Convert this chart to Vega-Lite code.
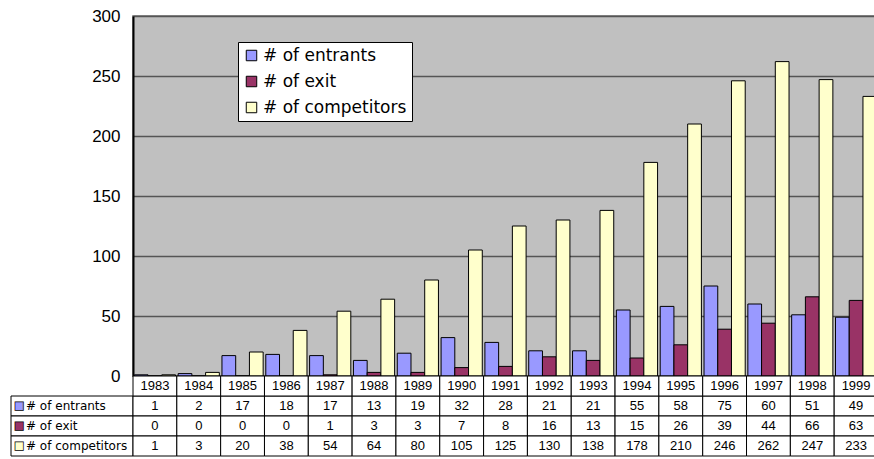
{
  "$schema": "https://vega.github.io/schema/vega-lite/v6.json",
  "padding": {"left": 10, "top": 6, "right": 0, "bottom": 0},
  "background": "white",
  "config": {"font": "Liberation Sans", "view": {"stroke": null}},
  "datasets": {
    "d": [
      {"year": "1983", "series": "# of entrants", "value": 1},
      {"year": "1984", "series": "# of entrants", "value": 2},
      {"year": "1985", "series": "# of entrants", "value": 17},
      {"year": "1986", "series": "# of entrants", "value": 18},
      {"year": "1987", "series": "# of entrants", "value": 17},
      {"year": "1988", "series": "# of entrants", "value": 13},
      {"year": "1989", "series": "# of entrants", "value": 19},
      {"year": "1990", "series": "# of entrants", "value": 32},
      {"year": "1991", "series": "# of entrants", "value": 28},
      {"year": "1992", "series": "# of entrants", "value": 21},
      {"year": "1993", "series": "# of entrants", "value": 21},
      {"year": "1994", "series": "# of entrants", "value": 55},
      {"year": "1995", "series": "# of entrants", "value": 58},
      {"year": "1996", "series": "# of entrants", "value": 75},
      {"year": "1997", "series": "# of entrants", "value": 60},
      {"year": "1998", "series": "# of entrants", "value": 51},
      {"year": "1999", "series": "# of entrants", "value": 49},
      {"year": "1983", "series": "# of exit", "value": 0},
      {"year": "1984", "series": "# of exit", "value": 0},
      {"year": "1985", "series": "# of exit", "value": 0},
      {"year": "1986", "series": "# of exit", "value": 0},
      {"year": "1987", "series": "# of exit", "value": 1},
      {"year": "1988", "series": "# of exit", "value": 3},
      {"year": "1989", "series": "# of exit", "value": 3},
      {"year": "1990", "series": "# of exit", "value": 7},
      {"year": "1991", "series": "# of exit", "value": 8},
      {"year": "1992", "series": "# of exit", "value": 16},
      {"year": "1993", "series": "# of exit", "value": 13},
      {"year": "1994", "series": "# of exit", "value": 15},
      {"year": "1995", "series": "# of exit", "value": 26},
      {"year": "1996", "series": "# of exit", "value": 39},
      {"year": "1997", "series": "# of exit", "value": 44},
      {"year": "1998", "series": "# of exit", "value": 66},
      {"year": "1999", "series": "# of exit", "value": 63},
      {"year": "1983", "series": "# of competitors", "value": 1},
      {"year": "1984", "series": "# of competitors", "value": 3},
      {"year": "1985", "series": "# of competitors", "value": 20},
      {"year": "1986", "series": "# of competitors", "value": 38},
      {"year": "1987", "series": "# of competitors", "value": 54},
      {"year": "1988", "series": "# of competitors", "value": 64},
      {"year": "1989", "series": "# of competitors", "value": 80},
      {"year": "1990", "series": "# of competitors", "value": 105},
      {"year": "1991", "series": "# of competitors", "value": 125},
      {"year": "1992", "series": "# of competitors", "value": 130},
      {"year": "1993", "series": "# of competitors", "value": 138},
      {"year": "1994", "series": "# of competitors", "value": 178},
      {"year": "1995", "series": "# of competitors", "value": 210},
      {"year": "1996", "series": "# of competitors", "value": 246},
      {"year": "1997", "series": "# of competitors", "value": 262},
      {"year": "1998", "series": "# of competitors", "value": 247},
      {"year": "1999", "series": "# of competitors", "value": 233}
    ]
  },
  "columns": 2,
  "spacing": 0,
  "bounds": "flush",
  "resolve": {
    "scale": {"x": "independent", "y": "independent", "color": "independent"},
    "legend": {"color": "independent"}
  },
  "concat": [
    {
      "width": 122,
      "height": 360,
      "data": {"values": [{}]},
      "mark": {"type": "text"},
      "encoding": {"text": {"value": ""}}
    },
    {
      "width": 745,
      "height": 360,
      "data": {"name": "d"},
      "view": {"fill": "#C0C0C0", "stroke": "#666666", "strokeWidth": 1.5},
      "mark": {"type": "bar", "stroke": "black", "strokeWidth": 1},
      "encoding": {
        "x": {"field": "year", "type": "nominal", "axis": null, "scale": {"paddingInner": 0.06, "paddingOuter": 0.03}},
        "xOffset": {"field": "series", "type": "nominal", "scale": {"domain": ["# of entrants", "# of exit", "# of competitors"]}},
        "y": {
          "field": "value", "type": "quantitative",
          "scale": {"domain": [0, 300], "nice": false},
          "axis": {
            "title": null, "values": [0, 50, 100, 150, 200, 250, 300],
            "grid": true, "gridColor": "#555555", "gridWidth": 1.5,
            "domainColor": "black", "domainWidth": 2, "ticks": false,
            "labelPadding": 13, "labelFontSize": 17, "labelColor": "black", "labelFont": "Liberation Sans"
          }
        },
        "color": {
          "field": "series", "type": "nominal",
          "scale": {"domain": ["# of entrants", "# of exit", "# of competitors"], "range": ["#9999FF", "#993366", "#FFFFCC"]},
          "legend": {
            "title": null, "orient": "none", "legendX": 105, "legendY": 26,
            "fillColor": "white", "strokeColor": "black", "padding": 5, "cornerRadius": 0,
            "labelFont": "DejaVu Sans", "labelFontSize": 17, "labelColor": "black", "labelOffset": 3,
            "symbolType": "square", "symbolSize": 110, "symbolStrokeColor": "black", "symbolStrokeWidth": 1,
            "rowPadding": 8
          }
        }
      }
    },
    {
      "width": 122,
      "height": 80,
      "data": {"name": "d"},
      "transform": [{"filter": "datum.year === '1983'"}],
      "encoding": {
        "y": {"field": "series", "type": "nominal", "axis": null,
          "scale": {"domain": ["year", "# of entrants", "# of exit", "# of competitors"], "paddingInner": 0, "paddingOuter": 0}}
      },
      "layer": [
        {
          "mark": {"type": "rect", "fill": "white", "stroke": "black", "strokeWidth": 1},
          "encoding": {"x": {"datum": "c", "type": "nominal", "axis": null, "scale": {"paddingInner": 0, "paddingOuter": 0}}}
        },
        {
          "mark": {"type": "text", "text": "■", "align": "left", "baseline": "middle", "dx": 3, "fontSize": 11, "font": "DejaVu Sans", "stroke": "black", "strokeWidth": 0.7},
          "encoding": {
            "x": {"datum": "c", "type": "nominal", "bandPosition": 0, "axis": null},
            "color": {"field": "series", "type": "nominal", "legend": null,
              "scale": {"domain": ["# of entrants", "# of exit", "# of competitors"], "range": ["#9999FF", "#993366", "#FFFFCC"]}}
          }
        },
        {
          "mark": {"type": "text", "align": "left", "baseline": "middle", "dx": 15, "fontSize": 12, "font": "DejaVu Sans", "color": "black"},
          "encoding": {
            "x": {"datum": "c", "type": "nominal", "bandPosition": 0, "axis": null},
            "text": {"field": "series"}
          }
        }
      ]
    },
    {
      "width": 745,
      "height": 80,
      "data": {"name": "d"},
      "encoding": {
        "x": {"field": "year", "type": "nominal", "axis": null, "scale": {"paddingInner": 0, "paddingOuter": 0}},
        "y": {"field": "series", "type": "nominal", "axis": null,
          "scale": {"domain": ["year", "# of entrants", "# of exit", "# of competitors"], "paddingInner": 0, "paddingOuter": 0}}
      },
      "layer": [
        {
          "mark": {"type": "rect", "fill": "white", "stroke": "black", "strokeWidth": 1}
        },
        {
          "transform": [{"filter": "datum.series === '# of entrants'"}],
          "mark": {"type": "rect", "fill": "white", "stroke": "black", "strokeWidth": 1},
          "encoding": {"y": {"datum": "year", "type": "nominal"}}
        },
        {
          "mark": {"type": "text", "baseline": "middle", "fontSize": 13, "color": "black"},
          "encoding": {"text": {"field": "value", "type": "quantitative", "format": "d"}}
        },
        {
          "transform": [{"filter": "datum.series === '# of entrants'"}],
          "mark": {"type": "text", "baseline": "middle", "fontSize": 13, "color": "black"},
          "encoding": {"y": {"datum": "year", "type": "nominal"}, "text": {"field": "year"}}
        }
      ]
    }
  ]
}
